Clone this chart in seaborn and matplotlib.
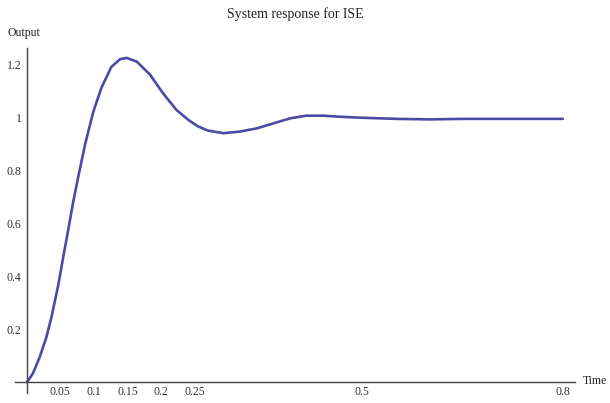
import numpy as np
import pandas as pd
import matplotlib
matplotlib.use('Agg')
import matplotlib.pyplot as plt
import seaborn as sns

# values
time = [0.0, 0.009, 0.019, 0.029, 0.037, 0.047, 0.054, 0.062, 0.069, 0.077,
        0.087, 0.099, 0.111, 0.126, 0.139, 0.149, 0.164, 0.184, 0.203, 0.223,
        0.241, 0.255, 0.270, 0.293, 0.318, 0.343, 0.368, 0.393, 0.417, 0.442,
        0.467, 0.502, 0.552, 0.601, 0.651, 0.701, 0.8]
output = [0.0, 0.034, 0.095, 0.17, 0.25, 0.37, 0.47, 0.58, 0.68, 0.78,
          0.9, 1.02, 1.11, 1.19, 1.219, 1.224, 1.21, 1.16, 1.091, 1.028,
          0.99, 0.966, 0.95, 0.94, 0.946, 0.958, 0.977, 0.996, 1.006, 1.006,
          1.002, 0.998, 0.994, 0.992, 0.994, 0.994, 0.994]
xticks = [0.05, 0.1, 0.15, 0.2, 0.25, 0.5, 0.8]
yticks = [0.2, 0.4, 0.6, 0.8, 1.0, 1.2]
ytick_labels = ['0.2', '0.4', '0.6', '0.8', '1', '1.2']

df = pd.DataFrame({'Time': time, 'Output': output})

sns.set_style('white')
plt.rcParams['font.family'] = ['Liberation Serif', 'DejaVu Serif']

fig = plt.figure(figsize=(6.10, 4.03), dpi=100)
ax = fig.add_axes([0.0244, 0.025, 0.918, 0.855])

sns.lineplot(data=df, x='Time', y='Output', ax=ax, color='#4b4ba6',
             linewidth=1.9, estimator=None, sort=True)
ax.lines[0].set_solid_joinstyle('round')

ax.set_xlim(-0.018, 0.818)
ax.set_ylim(-0.04, 1.26)

for s in ['top', 'right']:
    ax.spines[s].set_visible(False)
for s in ['left', 'bottom']:
    ax.spines[s].set_position('zero')
    ax.spines[s].set_color('#444444')
    ax.spines[s].set_linewidth(1.0)

ax.set_xticks(xticks)
ax.set_xticklabels([str(v) for v in xticks])
ax.set_yticks(yticks)
ax.set_yticklabels(ytick_labels)
ax.tick_params(axis='both', direction='in', length=4, width=1.0,
               color='#444444', labelsize=8.5, labelcolor='#333333')
ax.tick_params(axis='x', pad=3)
ax.tick_params(axis='y', pad=4)
ax.set_xlabel('')
ax.set_ylabel('')

fig.text(295 / 610, 1 - 14 / 403, 'System response for ISE', ha='center',
         va='center', fontsize=10, color='#222222')
fig.text(24 / 610, 1 - 33 / 403, 'Output', ha='center', va='center',
         fontsize=8.5, color='#222222')
fig.text(583 / 610, 1 - 381 / 403, 'Time', ha='left', va='center',
         fontsize=8.5, color='#222222')

fig.savefig('out.png', dpi=100)
